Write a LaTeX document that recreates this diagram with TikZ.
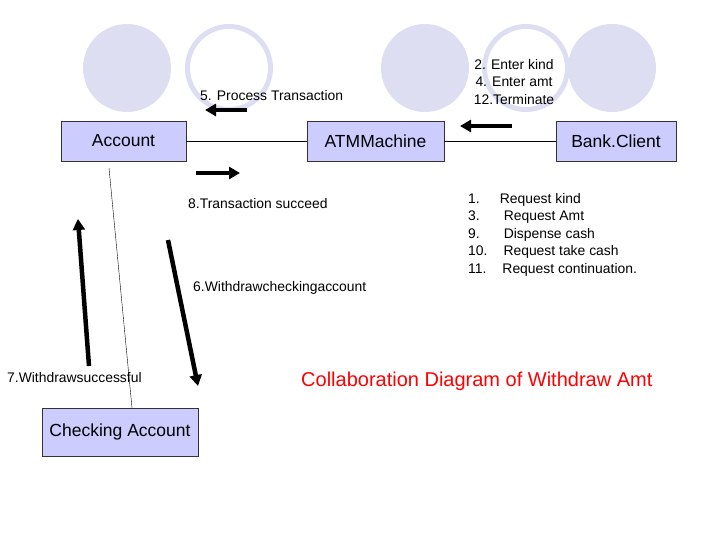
\documentclass[tikz,border=0pt]{standalone}
\usepackage{fontspec}
\setmainfont{Liberation Sans}
\usetikzlibrary{arrows.meta}
\definecolor{boxfill}{RGB}{204,204,255}
\definecolor{bubble}{RGB}{222,222,242}
\tikzset{
  obj/.style={draw=black!80, fill=boxfill, minimum height=40pt, font=\fontsize{17.5}{20}\selectfont},
  msg/.style={line width=4.5pt, -{Triangle[length=11pt,width=12pt]}},
  lbl/.style={font=\fontsize{13.9}{17.5}\selectfont, inner sep=0pt}
}
\begin{document}
\begin{tikzpicture}[x=1pt,y=-1pt]
\useasboundingbox (0,0) rectangle (720,540);
% background bubbles
\foreach \cx in {127,425,612}
  \fill[bubble] (\cx,68) circle (44);
\foreach \cx in {229,526}
  \draw[bubble, line width=5pt] (\cx,68) circle (41.5);

% objects
\node[obj, minimum width=125pt] (acc) at (123.5,141) {Account};
\node[obj, minimum width=137pt] (atm) at (375.5,141) {ATMMachine};
\node[obj, minimum width=120pt] (bank) at (616,141) {Bank.Client};
\node[obj, minimum width=156pt, minimum height=48pt] (chk) at (120,432) {Checking Account};

% links
\draw (acc) -- (atm);
\draw (atm) -- (bank);
\coordinate (accb) at (109,168);
\coordinate (chkt) at (132,408);
\draw (accb) -- (chkt);

% messages
\coordinate (m5a) at (247,110); \coordinate (m5b) at (205,110);
\draw[msg] (m5a) -- (m5b);
\coordinate (m8a) at (196,173); \coordinate (m8b) at (240,173);
\draw[msg] (m8a) -- (m8b);
\coordinate (m2a) at (512,126); \coordinate (m2b) at (460,126);
\draw[msg] (m2a) -- (m2b);
\coordinate (m7a) at (89,366); \coordinate (m7b) at (78,219);
\draw[msg] (m7a) -- (m7b);
\coordinate (m6a) at (168,240); \coordinate (m6b) at (198,386);
\draw[msg] (m6a) -- (m6b);

% labels
\node[lbl, anchor=west] (l5) at (200,96) {5. Process Transaction};
\node[lbl, align=center] (l2) at (514,82) {2. Enter kind\\4. Enter amt\\12.Terminate};
\node[lbl, anchor=west] (l8) at (188,204) {8.Transaction succeed};
\node[lbl, anchor=west] (l6) at (193,288) {6.Withdrawcheckingaccount};
\node[lbl, anchor=west] (l7) at (7,378) {7.Withdrawsuccessful};
\node[lbl, anchor=north west, align=left] (l1) at (468,193)
  {1.\hspace{20pt}Request kind\\3.\hspace{24pt}Request Amt\\9.\hspace{24pt}Dispense cash\\10.\hspace{16pt}Request take cash\\11.\hspace{16pt}Request continuation.};
\node[font=\fontsize{20}{24}\selectfont, text=red, anchor=west, inner sep=0pt] (title) at (301,381) {Collaboration Diagram of Withdraw Amt};
\end{tikzpicture}
\end{document}
